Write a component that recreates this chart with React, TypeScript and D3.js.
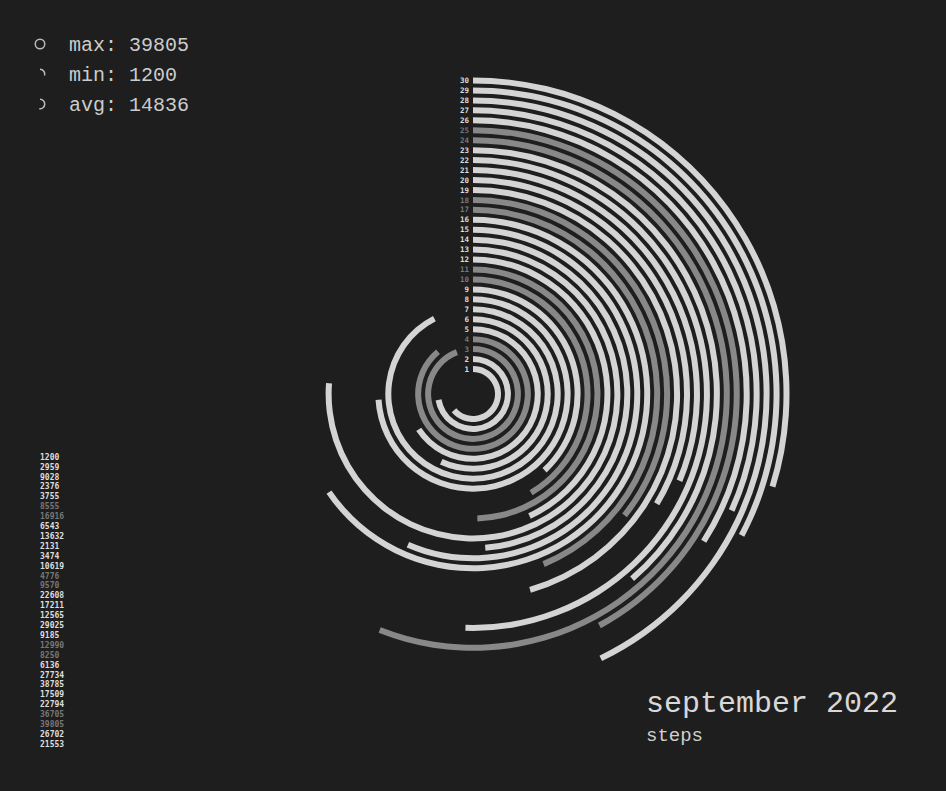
import React from "react";
import * as d3 from "d3";

// values listed top-to-bottom in the left column (latest day first)
const listValues = [1200, 2959, 9028, 2376, 3755, 8555, 16916, 6543, 13632, 2131, 3474, 10619, 4776, 9570, 22608, 17211, 12565, 29025, 9185, 12990, 8250, 6136, 27734, 38785, 17509, 22794, 36705, 39805, 26702, 21553];
// days of september 2022 (1..30); day d has value listValues[30 - d]
const days = d3.range(1, 31);
const weekendDays = [3, 4, 10, 11, 17, 18, 24, 25];
const listGray = [6, 7, 13, 14, 20, 21, 27, 28]; // 1-based rows shown gray in the list
const maxV = 39805;
const minV = 1200;
const avgV = 14836;

const W = 946, H = 791;
const BG = "#1e1e1e";
const LIGHT = "#d4d4d4";
const GRAY = "#888888";
const MONO = "'Courier New', 'Liberation Mono', monospace";
const SMALL = "'DejaVu Sans Mono', monospace";

export default function App() {
  const cx = 473, cy = 394;
  const rScale = d3.scaleLinear().domain([1, 30]).range([25, 313.5]);
  const angleDeg = d3.scaleLinear().domain([0, maxV]).range([100, 339]);
  const toRad = (d: number) => (d * Math.PI) / 180;
  const sw = 6;

  const arcGen = d3.arc<any>();

  const ringPath = (r: number, v: number) =>
    arcGen({ innerRadius: r - sw / 2, outerRadius: r + sw / 2, startAngle: 0, endAngle: toRad(angleDeg(v)) } as any) as string;

  const iconArc = (v: number) =>
    d3.arc<any>()({ innerRadius: 4, outerRadius: 5.5, startAngle: 0, endAngle: toRad(angleDeg(v)) } as any) as string;

  const legend = [
    { label: "max: " + maxV, v: maxV, y: 44 },
    { label: "min: " + minV, v: minV, y: 74 },
    { label: "avg: " + avgV, v: avgV, y: 104 },
  ];

  const listY = d3.scaleLinear().domain([0, 29]).range([457, 744]);

  return (
    <svg width={W} height={H} style={{ position: "absolute", left: 0, top: 0, background: BG }}>
      <rect x={0} y={0} width={W} height={H} fill={BG} />
      {legend.map((l) => (
        <g key={l.label}>
          <path d={l.v === maxV ? (d3.arc<any>()({ innerRadius: 4, outerRadius: 5.5, startAngle: 0, endAngle: Math.PI * 2 } as any) as string) : iconArc(l.v)} transform={`translate(40,${l.y})`} fill="#bbbbbb" />
          <text x={69} y={l.y} dy="0.33em" fontFamily={MONO} fontSize={20} fill="#cccccc">{l.label}</text>
        </g>
      ))}
      <g transform={`translate(${cx},${cy})`}>
        {days.map((d) => {
          const v = listValues[30 - d];
          const isW = weekendDays.includes(d);
          return (
            <path key={d} d={ringPath(rScale(d), v)} fill={isW ? GRAY : LIGHT} />
          );
        })}
        {days.map((d) => {
          const isW = weekendDays.includes(d);
          return (
            <text key={"l" + d} x={-4} y={-rScale(d)} dy="0.35em" textAnchor="end" fontFamily={SMALL} fontWeight="bold" fontSize={7.5} fill={isW ? "#777777" : "#dddddd"}>{d}</text>
          );
        })}
      </g>
      {listValues.map((v, i) => (
        <text key={"v" + i} x={40} y={listY(i)} dy="0.35em" fontFamily={SMALL} fontWeight="bold" fontSize={8} fill={listGray.includes(i + 1) ? "#777777" : "#dddddd"}>{v}</text>
      ))}
      <text x={646} y={712} fontFamily={MONO} fontSize={30} fill="#d8d8d8">september 2022</text>
      <text x={646} y={741} fontFamily={MONO} fontSize={19} fill="#d0d0d0">steps</text>
    </svg>
  );
}
